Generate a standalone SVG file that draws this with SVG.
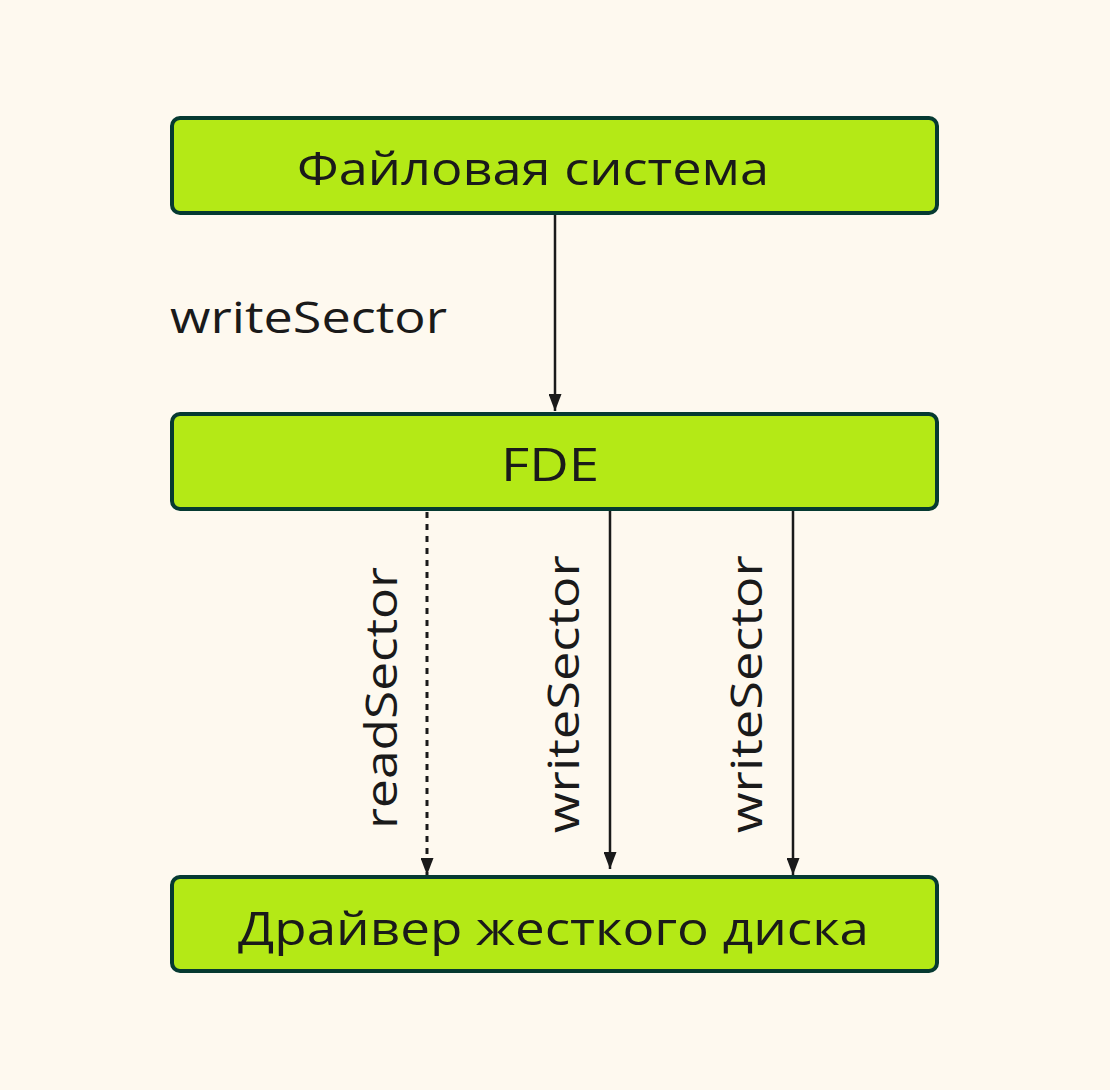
<svg xmlns="http://www.w3.org/2000/svg" width="1110" height="1090" viewBox="0 0 1110 1090">
<defs>
<style>
.box{fill:#b4e916;stroke:#063a31;stroke-width:4}
.t{font-family:"Open Sans","Liberation Sans",sans-serif;fill:#1a1a1a}
.node{font-size:46px}
.lbl{font-size:44px}
.ln{stroke:#1a1a1a;stroke-width:2.5;fill:none}
.dash{stroke-dasharray:6 6;stroke-width:3}
</style>
<marker id="ah" viewBox="0 0 17 13" refX="17" refY="6.5" markerWidth="17" markerHeight="13" markerUnits="userSpaceOnUse" orient="auto">
<path d="M0,0 L17,6.5 L0,13 Z" fill="#1a1a1a"/>
</marker>
</defs>
<rect width="1110" height="1090" fill="#fef9ef"/>
<g id="connectors">
<line class="ln" x1="555" y1="213" x2="555" y2="411" marker-end="url(#ah)"/>
<line class="ln dash" x1="427" y1="512" x2="427" y2="875" marker-end="url(#ah)"/>
<line class="ln" x1="610" y1="511" x2="610" y2="869" marker-end="url(#ah)"/>
<line class="ln" x1="793" y1="511" x2="793" y2="875" marker-end="url(#ah)"/>
<text class="t lbl" x="170" y="333" textLength="277" lengthAdjust="spacingAndGlyphs">writeSector</text>
<text class="t lbl" transform="translate(397,829) rotate(-90)" textLength="262" lengthAdjust="spacingAndGlyphs">readSector</text>
<text class="t lbl" transform="translate(579,833) rotate(-90)" textLength="278" lengthAdjust="spacingAndGlyphs">writeSector</text>
<text class="t lbl" transform="translate(762,833) rotate(-90)" textLength="278" lengthAdjust="spacingAndGlyphs">writeSector</text>
</g>
<g id="fs">
<rect class="box" x="172" y="118" width="765" height="95" rx="8"/>
<text class="t node" x="297" y="185" textLength="472" lengthAdjust="spacingAndGlyphs">Файловая система</text>
</g>
<g id="fde">
<rect class="box" x="172" y="414" width="765" height="95" rx="8"/>
<text class="t node" x="501" y="481" textLength="98" lengthAdjust="spacingAndGlyphs">FDE</text>
</g>
<g id="driver">
<rect class="box" x="172" y="877" width="765" height="94" rx="8"/>
<text class="t node" x="238" y="945" textLength="631" lengthAdjust="spacingAndGlyphs">Драйвер жесткого диска</text>
</g>
</svg>
